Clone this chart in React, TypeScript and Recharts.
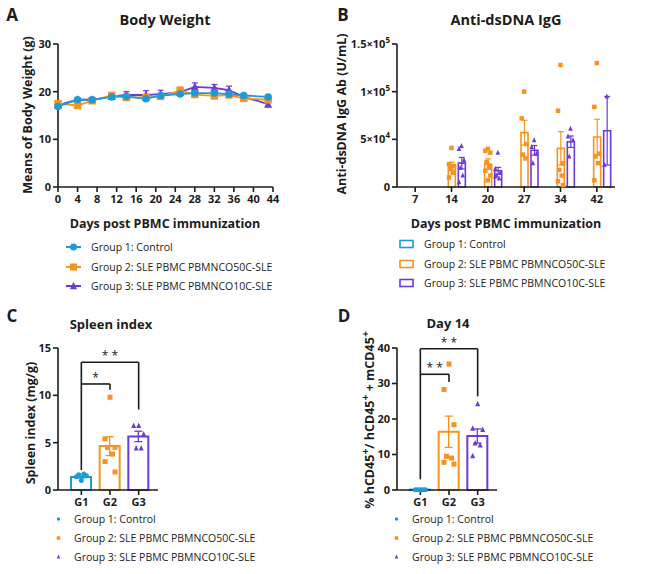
import React from "react"
import {
  LineChart,
  Line,
  ComposedChart,
  Bar,
  Scatter,
  ErrorBar,
  XAxis,
  YAxis,
  ReferenceLine,
} from "recharts"

const BLUE = "#1e9bd7"
const ORANGE = "#f7931e"
const PURPLE = "#6b3bd8"
const INK = "#1c1c1c"
const FONT = "'Open Sans', 'Noto Sans', sans-serif"

const GROUP_NAMES = [
  "Group 1: Control",
  "Group 2: SLE PBMC PBMNCO50C-SLE",
  "Group 3: SLE PBMC PBMNCO10C-SLE",
]
const GROUP_COLORS = [BLUE, ORANGE, PURPLE]

// Panel A - body weight (g), mean ± SEM
const BW_DAYS = [0, 4, 7, 11, 14, 18, 21, 25, 28, 32, 35, 38, 43]
const BW_G1 = [16.9, 18.3, 18.3, 18.9, 19.0, 18.5, 19.2, 19.5, 19.7, 19.7, 19.5, 19.2, 18.9]
const BW_G1_SEM = [0.3, 0.3, 0.3, 0.3, 0.4, 0.3, 0.3, 0.3, 0.3, 0.3, 0.3, 0.4, 0.4]
const BW_G2 = [17.5, 17.1, 18.1, 19.2, 18.8, 18.8, 19.0, 20.2, 19.4, 19.1, 19.3, 18.6, 18.3]
const BW_G2_SEM = [0.4, 0.4, 0.4, 0.5, 0.5, 0.5, 0.5, 0.8, 0.5, 0.5, 0.5, 0.6, 0.6]
const BW_G3 = [17.2, 18.3, 18.3, 19.0, 19.3, 19.3, 19.5, 19.9, 21.0, 20.8, 20.3, 18.9, 17.4]
const BW_G3_SEM = [0.3, 0.3, 0.3, 0.4, 0.7, 0.9, 0.8, 0.6, 0.85, 0.7, 0.85, 0.4, 0.55]
const BW_TICKS = [0, 4, 8, 12, 16, 20, 24, 28, 32, 36, 40, 44]

// Panel B - anti-dsDNA IgG (U/mL)
const IGG_DAYS = ["7", "14", "20", "27", "34", "42"]
const IGG_G2_MEAN = [null, 22000, 24000, 57000, 40500, 52500]
const IGG_G2_SEM = [null, 4000, 5500, 13000, 17500, 18500]
const IGG_G3_MEAN = [null, 25000, 17000, 38500, 47500, 59000]
const IGG_G3_SEM = [null, 6000, 3600, 5000, 6000, 36000]
const IGG_G2_POINTS = [
  [],
  [41000, 24000, 22000, 19000, 15000, 10000],
  [40000, 38000, 36000, 26000, 21000, 17000, 12000, 7000],
  [100000, 72000, 45000, 34000, 30000],
  [128000, 80000, 25000, 18000, 12000, 6000, 2000],
  [130000, 84000, 35000, 32000, 25000, 7000],
]
const IGG_G3_POINTS = [
  [],
  [43000, 40000, 28000, 20000, 12000, 5000],
  [36000, 19000, 15000, 12000, 9000, 11000],
  [49000, 42000, 35000, 25000],
  [61000, 53000, 49000, 32000],
  [95000, 23000],
]
const IGG_TICKS = [0, 50000, 100000, 150000]

// Panel C - spleen index (mg/g)
const GROUPS = ["G1", "G2", "G3"]
const SPLEEN_MEAN = [1.37, 4.64, 5.66]
const SPLEEN_SEM = [0.1, 1.0, 0.55]
const SPLEEN_POINTS = [
  [1.0, 1.4, 1.5, 1.6, 1.7],
  [9.8, 5.4, 4.5, 4.5, 3.8, 3.0, 1.9],
  [6.8, 6.8, 5.9, 4.4, 4.4],
]
const SPLEEN_TICKS = [0, 5, 10, 15]
// bracket: [from, to, height, left leg bottom, right leg bottom, stars]
const SPLEEN_SIG = [
  ["G1", "G3", 13.5, 2.1, 8.5, "* *"],
  ["G1", "G2", 11.2, 11.2, 10.6, "*"],
] as const

// Panel D - hCD45+ at day 14 (%)
const CD45_MEAN = [0.1, 16.4, 15.2]
const CD45_SEM = [0.05, 4.4, 2.0]
const CD45_POINTS = [
  [0.1, 0.1, 0.1, 0.1, 0.1],
  [35.5, 28.3, 18.4, 9.5, 9.0, 7.8, 7.3],
  [24.2, 17.3, 17.0, 13.2, 12.6, 9.6],
]
const CD45_TICKS = [0, 10, 20, 30, 40]
const CD45_SIG = [
  ["G1", "G3", 39.8, 3.0, 26.4, "* *"],
  ["G1", "G2", 32.6, 32.6, 30.4, "* *"],
] as const

const bwRows = BW_DAYS.map((day, i) => ({
  day,
  g1: BW_G1[i],
  e1: BW_G1_SEM[i],
  g2: BW_G2[i],
  e2: BW_G2_SEM[i],
  g3: BW_G3[i],
  e3: BW_G3_SEM[i],
}))

const iggRows = IGG_DAYS.map((day, i) => ({
  day,
  g1: null,
  g2: IGG_G2_MEAN[i],
  e2: IGG_G2_SEM[i],
  g3: IGG_G3_MEAN[i],
  e3: IGG_G3_SEM[i],
}))

const flatten = (cats: string[], lists: number[][], key: string) =>
  lists.flatMap((vals, i) => vals.map((v, k) => ({ [key]: cats[i], v, k })))

const groupRows = (means: number[], sems: number[]) =>
  GROUPS.map((g, i) => ({ g, [`m${i}`]: means[i], [`s${i}`]: sems[i] }))

const axisLine = { stroke: INK, strokeWidth: 1.6 }
const tickFont = { fill: INK, fontSize: 11, fontWeight: 700, fontFamily: FONT }

const jitter = (k: number, spread: number) => [0, -1, 1, -0.5, 0.5, -1, 1, 0][k % 8] * spread

type Kind = "circle" | "square" | "triangle"
const KINDS: Kind[] = ["circle", "square", "triangle"]

const marker = (kind: Kind, cx: number, cy: number, s: number, color: string, key?: any) => {
  if (kind === "circle") return <circle key={key} cx={cx} cy={cy} r={s / 2} fill={color} />
  if (kind === "square")
    return <rect key={key} x={cx - s / 2} y={cy - s / 2} width={s} height={s} fill={color} />
  const h = s * 0.9
  return (
    <path
      key={key}
      d={`M${cx},${cy - h / 2 - 1} L${cx + s / 2},${cy + h / 2} L${cx - s / 2},${cy + h / 2} Z`}
      fill={color}
    />
  )
}

const pointShape = (kind: Kind, color: string, dx: number, spread: number, size: number) => (p: any) =>
  marker(kind, p.cx + dx + jitter(p.payload?.k ?? 0, spread), p.cy, size, color)

const SciTick = (props: any) => {
  const { x, y, payload } = props
  const v = payload.value
  let body = "0"
  let exp = ""
  if (v > 0) {
    const e = Math.floor(Math.log10(v))
    body = `${+(v / 10 ** e).toFixed(1)}×10`
    exp = String(e)
  }
  return (
    <text x={x} y={y} dy={4} textAnchor="end" {...tickFont} fontSize={11}>
      {body}
      {exp && (
        <tspan dy={-5} fontSize={8}>
          {exp}
        </tspan>
      )}
    </text>
  )
}

const Txt = ({ x, y, size = 13, weight = 700, rotate = false, children }: any) => (
  <div
    style={{
      position: "absolute",
      left: x,
      top: y,
      transform: `translate(-50%, -50%)${rotate ? " rotate(-90deg)" : ""}`,
      fontSize: size,
      fontWeight: weight,
      fontFamily: FONT,
      color: INK,
      whiteSpace: "nowrap",
      lineHeight: 1,
    }}
  >
    {children}
  </div>
)

const LegendRows = ({ x, textX, y, gap, kind }: any) => (
  <>
    {GROUP_NAMES.map((name, i) => (
      <React.Fragment key={name}>
        <svg
          style={{ position: "absolute", left: x, top: y + i * gap - 6 }}
          width={18}
          height={12}
        >
          {kind === "line" && (
            <>
              <line x1={0} y1={6} x2={15} y2={6} stroke={GROUP_COLORS[i]} strokeWidth={2} />
              {marker(KINDS[i], 7.5, 6, 7, GROUP_COLORS[i])}
            </>
          )}
          {kind === "bar" && (
            <rect x={1} y={2.5} width={13} height={7} fill="none" stroke={GROUP_COLORS[i]} strokeWidth={1.6} />
          )}
          {kind === "dot" && marker(KINDS[i], 2.5, 6, 3.5, GROUP_COLORS[i])}
        </svg>
        <div
          style={{
            position: "absolute",
            left: textX,
            top: y + i * gap,
            transform: "translateY(-50%)",
            fontSize: 10.5,
            fontFamily: FONT,
            color: "#222",
            whiteSpace: "nowrap",
            lineHeight: 1,
          }}
        >
          {name}
        </div>
      </React.Fragment>
    ))}
  </>
)

const sigLines = (sig: readonly (readonly [string, string, number, number, number, string])[]) =>
  sig.flatMap(([a, b, h, lo, hi, stars], i) => [
    <ReferenceLine
      key={`h${i}`}
      segment={[{ x: a, y: h }, { x: b, y: h }]}
      stroke={INK}
      strokeWidth={1.6}
      label={{ value: stars, position: "top", fill: INK, fontSize: 12, fontFamily: FONT, offset: 2 }}
    />,
    <ReferenceLine key={`l${i}`} segment={[{ x: a, y: lo }, { x: a, y: h }]} stroke={INK} strokeWidth={1.6} />,
    <ReferenceLine key={`r${i}`} segment={[{ x: b, y: hi }, { x: b, y: h }]} stroke={INK} strokeWidth={1.6} />,
  ])

const GroupPanel = ({ means, sems, points, ticks, sig, yWidth, width }: any) => {
  const rows = groupRows(means, sems)
  return (
    <ComposedChart
      width={width}
      height={215}
      data={rows}
      margin={{ top: 45, right: 7, left: 0, bottom: 0 }}
    >
      <XAxis
        dataKey="g"
        allowDuplicatedCategory={false}
        padding={{ left: 9, right: 5 }}
        axisLine={axisLine}
        tickLine={axisLine}
        tick={tickFont}
        tickSize={5}
        tickMargin={3}
        height={28}
      />
      <YAxis
        domain={[ticks[0], ticks[ticks.length - 1]]}
        ticks={ticks}
        axisLine={axisLine}
        tickLine={axisLine}
        tick={tickFont}
        tickSize={5}
        tickMargin={2}
        width={yWidth}
        interval={0}
      />
      {GROUPS.map((g, i) => (
        <Bar
          key={g}
          dataKey={`m${i}`}
          stackId="one"
          barSize={20}
          fill="none"
          stroke={GROUP_COLORS[i]}
          strokeWidth={2}
          isAnimationActive={false}
        >
          <ErrorBar dataKey={`s${i}`} width={4} stroke={GROUP_COLORS[i]} strokeWidth={1.3} direction="y" />
        </Bar>
      ))}
      {GROUPS.map((g, i) => (
        <Scatter
          key={`p${g}`}
          data={flatten([g], [points[i]], "g")}
          dataKey="v"
          isAnimationActive={false}
          shape={pointShape(KINDS[i], GROUP_COLORS[i], 0, 5, 5)}
        />
      ))}
      {sigLines(sig)}
    </ComposedChart>
  )
}

export default function App() {
  const barSize = 7
  const barGap = 3
  return (
    <div
      style={{
        position: "absolute",
        left: 0,
        top: 0,
        width: 649,
        height: 574,
        background: "#fff",
        fontFamily: FONT,
      }}
    >
      {/* A: body weight over time */}
      <Txt x={12} y={14} size={17}>A</Txt>
      <Txt x={165} y={20} size={14.5}>Body Weight</Txt>
      <Txt x={28} y={115} size={12.5} rotate>Means of Body Weight (g)</Txt>
      <div style={{ position: "absolute", left: 0, top: 0 }}>
        <LineChart width={300} height={215} data={bwRows} margin={{ top: 44, right: 27, left: 0, bottom: 0 }}>
          <XAxis
            dataKey="day"
            type="number"
            domain={[0, 44]}
            ticks={BW_TICKS}
            interval={0}
            axisLine={axisLine}
            tickLine={axisLine}
            tick={tickFont}
            tickSize={5}
            tickMargin={3}
            height={28}
          />
          <YAxis
            domain={[0, 30]}
            ticks={[0, 10, 20, 30]}
            axisLine={axisLine}
            tickLine={axisLine}
            tick={tickFont}
            tickSize={5}
            tickMargin={2}
            width={58}
          />
          {[3, 2, 1].map((n) => (
            <Line
              key={n}
              dataKey={`g${n}`}
              stroke={GROUP_COLORS[n - 1]}
              strokeWidth={1.8}
              isAnimationActive={false}
              dot={(p: any) => marker(KINDS[n - 1], p.cx, p.cy, n === 3 ? 8 : 7.5, GROUP_COLORS[n - 1], p.index)}
            >
              <ErrorBar dataKey={`e${n}`} width={3} stroke={GROUP_COLORS[n - 1]} strokeWidth={1.2} direction="y" />
            </Line>
          ))}
        </LineChart>
      </div>
      <Txt x={165} y={224} size={12.5}>Days post PBMC immunization</Txt>
      <LegendRows x={66} textX={91} y={247} gap={19.7} kind="line" />

      {/* B: anti-dsDNA IgG */}
      <Txt x={343} y={14} size={17}>B</Txt>
      <Txt x={506} y={20} size={14.5}>Anti-dsDNA IgG</Txt>
      <Txt x={342} y={114} size={12.5} rotate>Anti-dsDNA IgG Ab (U/mL)</Txt>
      <div style={{ position: "absolute", left: 320, top: 0 }}>
        <ComposedChart
          width={300}
          height={215}
          data={iggRows}
          margin={{ top: 44, right: 5, left: 0, bottom: 0 }}
          barGap={barGap}
        >
          <XAxis
            dataKey="day"
            allowDuplicatedCategory={false}
            axisLine={axisLine}
            tickLine={axisLine}
            tick={tickFont}
            tickSize={5}
            tickMargin={3}
            height={28}
          />
          <YAxis
            domain={[0, 150000]}
            ticks={IGG_TICKS}
            axisLine={axisLine}
            tickLine={axisLine}
            tick={<SciTick />}
            tickSize={5}
            tickMargin={2}
            width={77}
          />
          {[1, 2, 3].map((n) => (
            <Bar
              key={n}
              dataKey={`g${n}`}
              barSize={barSize}
              fill="none"
              stroke={GROUP_COLORS[n - 1]}
              strokeWidth={1.6}
              isAnimationActive={false}
            >
              {n > 1 && (
                <ErrorBar dataKey={`e${n}`} width={3} stroke={GROUP_COLORS[n - 1]} strokeWidth={1.2} direction="y" />
              )}
            </Bar>
          ))}
          <Scatter
            data={flatten(IGG_DAYS, IGG_G2_POINTS, "day")}
            dataKey="v"
            isAnimationActive={false}
            shape={pointShape("square", ORANGE, 0, 2.5, 4.5)}
          />
          <Scatter
            data={flatten(IGG_DAYS, IGG_G3_POINTS, "day")}
            dataKey="v"
            isAnimationActive={false}
            shape={pointShape("triangle", PURPLE, barSize + barGap, 2.5, 4.5)}
          />
        </ComposedChart>
      </div>
      <Txt x={506} y={224} size={12.5}>Days post PBMC immunization</Txt>
      <LegendRows x={399} textX={424} y={244} gap={19.5} kind="bar" />

      {/* C: spleen index */}
      <Txt x={12} y={315} size={17}>C</Txt>
      <Txt x={111} y={324}>Spleen index</Txt>
      <Txt x={31} y={423} size={12.5} rotate>Spleen index (mg/g)</Txt>
      <div style={{ position: "absolute", left: 0, top: 303 }}>
        <GroupPanel
          means={SPLEEN_MEAN}
          sems={SPLEEN_SEM}
          points={SPLEEN_POINTS}
          ticks={SPLEEN_TICKS}
          sig={SPLEEN_SIG}
          yWidth={58}
          width={165}
        />
      </div>
      <LegendRows x={56} textX={74} y={519} gap={19} kind="dot" />

      {/* D: hCD45+ cells at day 14 */}
      <Txt x={344} y={315} size={17}>D</Txt>
      <Txt x={448} y={323}>Day 14</Txt>
      <Txt x={368} y={420} size={12.5} rotate>
        % hCD45<sup>+</sup>/ hCD45<sup>+</sup> + mCD45<sup>+</sup>
      </Txt>
      <div style={{ position: "absolute", left: 320, top: 303 }}>
        <GroupPanel
          means={CD45_MEAN}
          sems={CD45_SEM}
          points={CD45_POINTS}
          ticks={CD45_TICKS}
          sig={CD45_SIG}
          yWidth={77}
          width={184}
        />
      </div>
      <LegendRows x={394} textX={412} y={519} gap={19} kind="dot" />
    </div>
  )
}
